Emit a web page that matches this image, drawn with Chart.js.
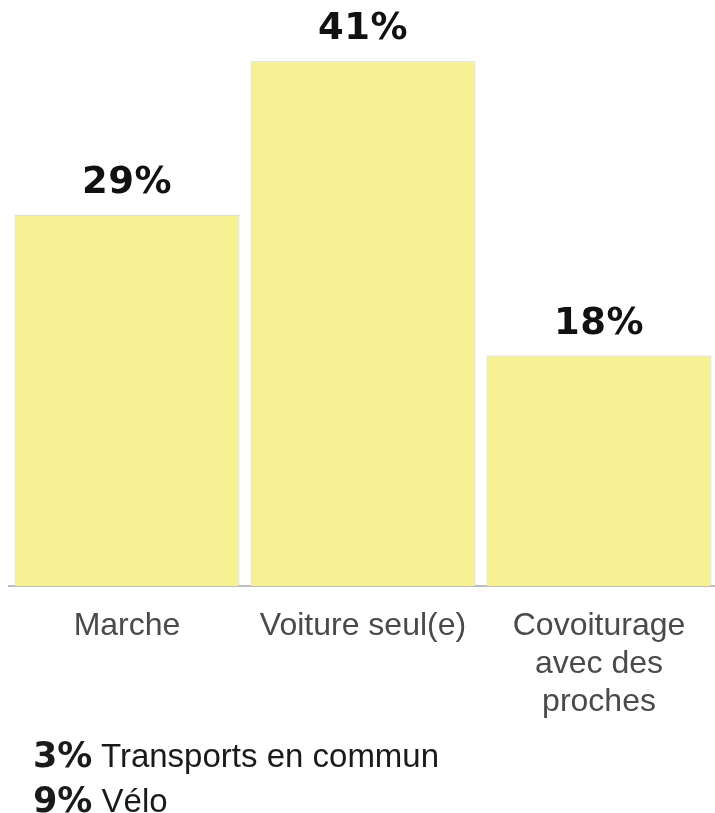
<!DOCTYPE html>
<html>
<head>
<meta charset="utf-8">
<script src="https://cdn.jsdelivr.net/npm/chart.js@4/dist/chart.umd.min.js"></script>
<style>
  html, body { margin: 0; padding: 0; background: #fff; overflow: hidden; }
  #wrap { position: relative; width: 715px; height: 813px; overflow: hidden; }
  canvas { position: absolute; left: 0; top: 0; }
  .note { position: absolute; left: 33px; font-family: "Liberation Sans", Arial, sans-serif; font-size: 33px; color: #1a1a1a; white-space: nowrap; line-height: 1; }
  .note b { font-family: "DejaVu Sans", sans-serif; font-weight: 700; font-size: 35px; letter-spacing: 0px; }
</style>
</head>
<body>
<div id="wrap">
  <canvas id="c" width="720" height="813"></canvas>
  <div class="note" id="n1" style="top:738px"></div>
  <div class="note" id="n2" style="top:783px"></div>
</div>
<script>
const categories = [["Marche"], ["Voiture seul(e)"], ["Covoiturage", "avec des", "proches"]];
const values = [29, 41, 18];
const otherLabels = ["Transports en commun", "Vélo"];
const otherValues = [3, 9];

document.getElementById('n1').innerHTML = '<b>' + otherValues[0] + '%</b> ' + otherLabels[0];
document.getElementById('n2').innerHTML = '<b>' + otherValues[1] + '%</b> ' + otherLabels[1];

const valueLabels = {
  id: 'valueLabels',
  afterDatasetsDraw(chart) {
    const ctx = chart.ctx;
    const meta = chart.getDatasetMeta(0);
    ctx.save();
    ctx.font = 'bold 37px "DejaVu Sans", sans-serif';
    try { ctx.letterSpacing = '0.5px'; } catch (e) {}
    ctx.fillStyle = '#111';
    ctx.textAlign = 'center';
    ctx.textBaseline = 'alphabetic';
    meta.data.forEach((bar, i) => {
      ctx.fillText(values[i] + '%', bar.x, bar.y - 22);
    });
    ctx.restore();
  }
};

new Chart(document.getElementById('c'), {
  type: 'bar',
  data: {
    labels: categories,
    datasets: [{
      data: values,
      backgroundColor: '#F6F293',
      borderColor: '#cfcfcf',
      borderWidth: 1,
      categoryPercentage: 1,
      barPercentage: 0.953
    }]
  },
  options: {
    responsive: false,
    animation: false,
    events: [],
    layout: { padding: { left: 9, right: 3, top: 10, bottom: 0 } },
    plugins: { legend: { display: false }, tooltip: { enabled: false } },
    scales: {
      x: {
        grid: { display: false, drawTicks: false },
        border: { display: true, color: '#bdbdbd', width: 2 },
        ticks: {
          color: '#4a4a4a',
          font: { family: '"Liberation Sans", Arial, sans-serif', size: 32, lineHeight: 1.19 },
          padding: 21,
          maxRotation: 0,
          autoSkip: false
        },
        afterFit(scale) { scale.height = 813 - 586; }
      },
      y: {
        display: false,
        min: 0,
        max: 45
      }
    }
  },
  plugins: [valueLabels]
});
</script>
</body>
</html>
